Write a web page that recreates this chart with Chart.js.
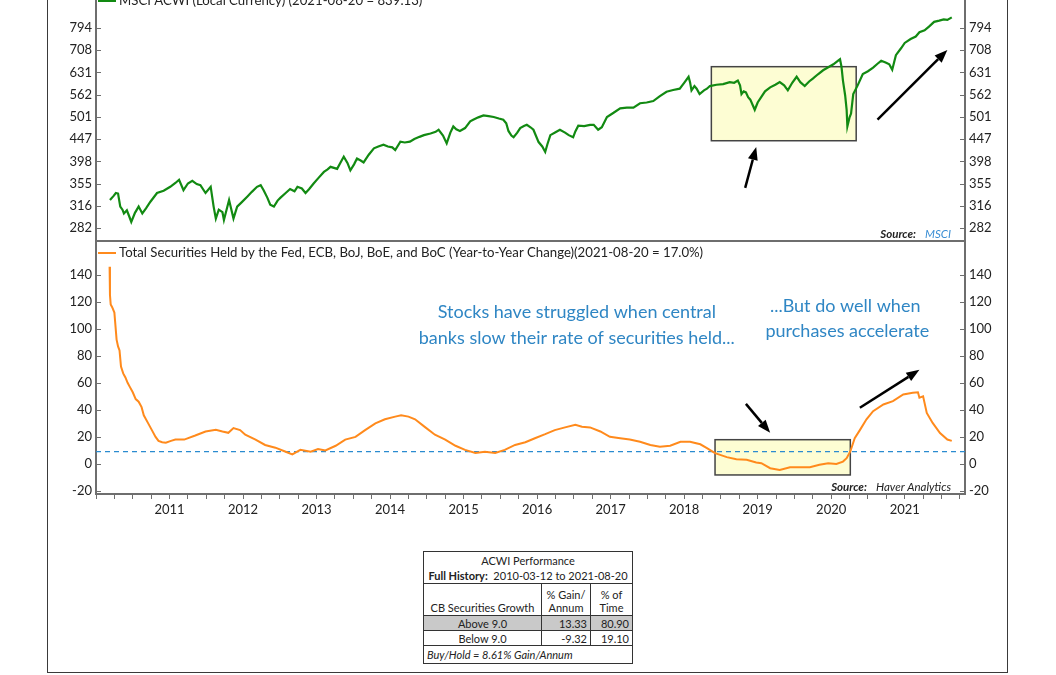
<!DOCTYPE html>
<html>
<head>
<meta charset="utf-8">
<title>ACWI vs Central Bank Securities</title>
<script src="https://cdn.jsdelivr.net/npm/chart.js@4.4.0/dist/chart.umd.min.js"></script>
<style>
  html, body { margin: 0; padding: 0; background: #fff; overflow: hidden; }
  body { width: 1056px; height: 675px; position: relative; font-family: Lato, "Open Sans", sans-serif; }
  .frame { position: absolute; left: 47px; top: -10px; width: 959px; height: 682px;
           border: 1.5px solid #3a3a3a; border-top: none; }
  #topChart { position: absolute; left: 0; top: -20px; }
  #botChart { position: absolute; left: 0; top: 236px; }
  #perf { position: absolute; left: 423px; top: 551px; }
  #perf table { border-collapse: collapse; table-layout: fixed; font-size: 11px; color: #222; }
  #perf td { border: 1px solid #333; padding: 0 3px; text-align: center; line-height: 13px; }
  #perf .title { height: 31px; line-height: 15px; }
  #perf .hdr td { height: 30px; vertical-align: bottom; padding-bottom: 1px; }
  #perf .row td { height: 14px; }
  #perf .grey td { background: #c9c9c9; }
  #perf .num { text-align: right; }
  #perf .foot { text-align: left; height: 17px; font-style: italic; }
</style>
</head>
<body>
<div class="frame"></div>
<canvas id="topChart" width="1056" height="264"></canvas>
<canvas id="botChart" width="1056" height="290"></canvas>
<div id="perf"></div>

<script>
// ---- data ----
const acwiDates = [2010.19,2010.24,2010.27,2010.30,2010.33,2010.36,2010.38,2010.42,2010.45,2010.48,2010.53,2010.58,2010.63,2010.68,2010.74,2010.83,2010.92,
  2011.01,2011.08,2011.13,2011.19,2011.25,2011.31,2011.37,2011.42,2011.49,2011.56,2011.60,2011.63,2011.67,2011.72,2011.74,2011.81,2011.87,2011.92,2011.98,
  2012.06,2012.12,2012.19,2012.24,2012.28,2012.33,2012.37,2012.42,2012.47,2012.51,2012.58,2012.64,2012.70,2012.74,2012.80,2012.85,2012.90,2012.96,
  2013.03,2013.10,2013.15,2013.19,2013.28,2013.33,2013.37,2013.42,2013.46,2013.51,2013.55,2013.60,2013.64,2013.71,2013.78,2013.84,2013.91,2013.97,
  2014.03,2014.07,2014.14,2014.20,2014.27,2014.33,2014.40,2014.46,2014.55,2014.62,2014.66,2014.72,2014.77,2014.82,2014.86,2014.90,2014.95,
  2015.02,2015.09,2015.13,2015.20,2015.27,2015.34,2015.41,2015.48,2015.54,2015.58,2015.61,2015.65,2015.68,2015.73,2015.77,2015.82,2015.86,2015.91,2015.95,
  2016.02,2016.07,2016.11,2016.14,2016.18,2016.25,2016.31,2016.38,2016.43,2016.49,2016.52,2016.56,2016.64,2016.72,2016.77,2016.83,2016.88,2016.95,
  2017.04,2017.13,2017.22,2017.31,2017.40,2017.49,2017.58,2017.67,2017.76,2017.85,2017.94,
  2018.00,2018.06,2018.08,2018.10,2018.14,2018.17,2018.21,2018.27,2018.31,2018.35,2018.44,2018.53,2018.62,2018.68,2018.73,2018.76,2018.78,2018.81,2018.84,2018.87,2018.90,2018.96,
  2019.00,2019.05,2019.10,2019.17,2019.24,2019.30,2019.36,2019.41,2019.47,2019.53,2019.58,2019.64,2019.70,2019.75,2019.82,2019.89,2019.96,
  2020.03,2020.09,2020.12,2020.14,2020.16,2020.19,2020.21,2020.22,2020.25,2020.27,2020.30,2020.36,2020.43,2020.50,2020.57,2020.63,2020.68,2020.74,2020.79,2020.83,2020.88,2020.95,
  2021.00,2021.08,2021.15,2021.20,2021.27,2021.33,2021.40,2021.47,2021.53,2021.58,2021.64];
const acwiValues = [326,333,338,337,315,310,304,309,300,291,305,315,304,312,323,338,342,
  349,356,362,343,355,360,354,352,338,349,315,296,310,306,294,326,296,315,322,
  332,340,349,352,343,330,318,315,325,330,338,345,341,349,346,338,345,355,
  366,377,382,387,383,397,408,395,380,392,404,400,396,412,426,430,434,430,
  428,422,441,439,441,447,452,456,460,464,469,455,437,462,477,470,466,
  473,490,494,500,505,503,501,497,494,485,466,455,451,462,473,478,481,475,469,
  440,430,418,435,456,463,469,462,456,451,465,479,478,481,481,469,475,501,
  512,524,526,526,538,540,544,558,571,576,580,
  598,617,600,575,588,580,564,575,580,588,592,594,600,598,605,590,564,572,569,555,548,520,
  540,556,572,584,592,600,590,575,598,617,600,588,602,611,625,638,648,
  658,670,676,650,605,560,520,477,500,510,564,590,626,635,647,660,670,664,658,640,690,715,
  735,750,760,777,785,800,820,825,830,828,839.13];

const cbDates = [2010.185,2010.19,2010.20,2010.22,2010.25,2010.28,2010.30,2010.32,2010.34,2010.37,2010.40,2010.43,2010.46,2010.50,2010.54,2010.58,2010.62,2010.65,2010.71,2010.76,2010.81,2010.85,2010.90,2010.95,
  2011.02,2011.08,2011.20,2011.35,2011.49,2011.63,2011.72,2011.80,2011.87,2011.96,
  2012.03,2012.17,2012.30,2012.44,2012.58,2012.67,2012.78,2012.92,
  2013.02,2013.12,2013.26,2013.39,2013.53,2013.66,2013.80,2013.93,
  2014.07,2014.15,2014.25,2014.34,2014.48,2014.61,2014.75,2014.89,
  2015.02,2015.16,2015.29,2015.43,2015.56,2015.70,2015.84,2015.97,
  2016.11,2016.24,2016.38,2016.52,2016.61,2016.72,2016.86,2016.99,
  2017.13,2017.26,2017.40,2017.54,2017.67,2017.81,2017.95,
  2018.08,2018.22,2018.31,2018.42,2018.58,2018.71,2018.85,2018.98,
  2019.05,2019.17,2019.30,2019.44,2019.57,2019.71,2019.84,2019.96,
  2020.07,2020.16,2020.21,2020.26,2020.32,2020.39,2020.48,2020.57,2020.71,2020.84,2020.98,
  2021.11,2021.18,2021.20,2021.25,2021.30,2021.38,2021.48,2021.58,2021.64];
const cbValues = [146,125,118,116,112,92,87,84,72,67,64,60,57,53,48,46,42,36,30,25,20,17,16,15.6,
  17,18,18,21,24,25.3,24,23,26.5,25,
  21.6,18,14,12,9,7,10.4,9,
  11,10,13.4,18,20,25,30,33,
  35,36,35,33,27,21.6,18,13.4,
  10.4,8,9,8,10.4,14,16,19,
  22,25,27,29,27.5,27,24,20,
  19,18,16.4,14,12.7,13.4,16.4,
  16.4,14.5,11.7,8,5,3.5,3,1,
  0.5,-3.2,-4.5,-2.5,-2.5,-2.5,-0.7,0.5,
  0,1.7,4.2,9.2,19,25,33,39,44,46.4,51.4,
  52.6,53,49,50,37.7,30.3,22.8,18,17];

const threshold = 9;
const topTicks = [282, 316, 355, 398, 447, 501, 562, 631, 708, 794];
const bottomTicks = [-20, 0, 20, 40, 60, 80, 100, 120, 140];
const tableHead = ['CB Securities Growth', '% Gain/<br>Annum', '% of<br>Time'];
const tableRows = [['Above 9.0', '13.33', '80.90'], ['Below 9.0', '-9.32', '19.10']];

// ---- shared look ----
const xMin = 2010, xMax = 2021.82;
const axisColor = '#6e6e6e';
const tickFont = { family: 'Lato', size: 13 };
const quarterTicks = [];
for (let yr = 2010; yr <= 2021; yr++) for (let q = 0; q < 4; q++) quarterTicks.push(yr + q / 4);

function yAxis(pos, type, lo, hi, ticks, width) {
  return {
    type: type, position: pos, min: lo, max: hi,
    afterBuildTicks: s => { s.ticks = ticks.map(v => ({ value: v })); },
    // fixed width, and no extra room for the end labels
    afterFit: s => { s.width = width; s.paddingTop = 0; s.paddingBottom = 0; },
    ticks: { font: tickFont, color: '#222', padding: 4, autoSkip: false, callback: v => String(v) },
    grid: { display: false, drawTicks: false },
    border: { display: true, color: axisColor, width: 2 }
  };
}

// y ticks point into the plot
const innerTicks = {
  id: 'innerTicks',
  afterDraw(chart) {
    const ctx = chart.ctx, area = chart.chartArea;
    ctx.save();
    ctx.strokeStyle = axisColor; ctx.lineWidth = 1;
    ['y', 'y2'].forEach(id => {
      const s = chart.scales[id];
      const left = s.position === 'left';
      const x0 = left ? area.left : area.right;
      s.ticks.forEach(t => {
        const py = Math.round(s.getPixelForValue(t.value)) + 0.5;
        ctx.beginPath(); ctx.moveTo(x0, py); ctx.lineTo(left ? x0 + 5 : x0 - 5, py); ctx.stroke();
      });
    });
    ctx.restore();
  }
};

function panelLegend(offset) {
  return {
    id: 'panelLegend',
    afterDraw(chart) {
      const ds = chart.data.datasets.find(d => d.label);
      const { left, top } = chart.chartArea;
      const ctx = chart.ctx, y = top + offset;
      ctx.save();
      ctx.strokeStyle = ds.borderColor; ctx.lineWidth = 2;
      ctx.beginPath(); ctx.moveTo(left + 2, y); ctx.lineTo(left + 20, y); ctx.stroke();
      ctx.fillStyle = '#222'; ctx.font = '13.2px Lato'; ctx.textBaseline = 'middle';
      ctx.fillText(ds.label, left + 23, y);
      ctx.restore();
    }
  };
}

function arrow(ctx, x0, y0, x1, y1) {
  const a = Math.atan2(y1 - y0, x1 - x0), len = 13, w = 5;
  const bx = x1 - len * Math.cos(a), by = y1 - len * Math.sin(a);
  ctx.beginPath(); ctx.moveTo(x0, y0); ctx.lineTo(bx, by); ctx.stroke();
  ctx.beginPath();
  ctx.moveTo(x1, y1);
  ctx.lineTo(bx + w * Math.sin(a), by - w * Math.cos(a));
  ctx.lineTo(bx - w * Math.sin(a), by + w * Math.cos(a));
  ctx.closePath(); ctx.fill();
}

// boxes, arrows, texts and source line, all placed in data units
function notes(cfg) {
  return {
    id: 'notes',
    beforeDatasetsDraw(chart) {
      const { ctx, scales: { x, y } } = chart;
      ctx.save();
      cfg.boxes.forEach(b => {
        const x0 = x.getPixelForValue(b[0]), x1 = x.getPixelForValue(b[1]);
        const y0 = y.getPixelForValue(b[2]), y1 = y.getPixelForValue(b[3]);
        ctx.fillStyle = '#fdfdd3'; ctx.fillRect(x0, y0, x1 - x0, y1 - y0);
        ctx.strokeStyle = '#444'; ctx.lineWidth = 1.5; ctx.strokeRect(x0, y0, x1 - x0, y1 - y0);
      });
      ctx.restore();
    },
    afterDraw(chart) {
      const { ctx, scales: { x, y }, chartArea } = chart;
      ctx.save();
      ctx.strokeStyle = '#000'; ctx.fillStyle = '#000'; ctx.lineWidth = 2.5;
      cfg.arrows.forEach(a => arrow(ctx, x.getPixelForValue(a[0]), y.getPixelForValue(a[1]),
                                         x.getPixelForValue(a[2]), y.getPixelForValue(a[3])));
      ctx.fillStyle = '#2f86c4'; ctx.font = '18px Lato';
      ctx.textAlign = 'center'; ctx.textBaseline = 'middle';
      cfg.texts.forEach(t => ctx.fillText(t[2], x.getPixelForValue(t[0]), y.getPixelForValue(t[1])));
      // source line, right aligned
      const sy = chartArea.bottom - 7;
      let sx = chartArea.right - 14;
      ctx.textAlign = 'right';
      ctx.font = 'italic 11.5px Lato'; ctx.fillStyle = cfg.sourceColor;
      ctx.fillText(cfg.source, sx, sy);
      sx -= ctx.measureText(cfg.source).width + 9;
      ctx.font = 'italic bold 11.5px Lato'; ctx.fillStyle = '#222';
      ctx.fillText('Source:', sx, sy);
      ctx.restore();
    }
  };
}

// ---- top panel: MSCI ACWI, log scale ----
new Chart(document.getElementById('topChart'), {
  type: 'line',
  data: {
    datasets: [{
      label: 'MSCI ACWI (Local Currency) (2021-08-20 = 839.13)',
      data: acwiDates.map((d, i) => ({ x: d, y: acwiValues[i] })),
      borderColor: '#128a12', borderWidth: 2.2, pointRadius: 0, tension: 0
    }]
  },
  options: {
    responsive: false, animation: false,
    layout: { padding: { top: 7, bottom: 3, left: 0, right: 0 } },
    plugins: { legend: { display: false }, tooltip: { enabled: false } },
    scales: {
      x: { type: 'linear', min: xMin, max: xMax, ticks: { display: false },
           grid: { display: false, drawTicks: false },
           border: { display: true, color: axisColor, width: 2 },
           afterFit: s => { s.height = 0; s.paddingLeft = 0; s.paddingRight = 0; } },
      y: yAxis('left', 'logarithmic', 263.6, 982, topTicks, 96),
      y2: yAxis('right', 'logarithmic', 263.6, 982, topTicks, 91)
    }
  },
  plugins: [innerTicks, panelLegend(14), notes({
    boxes: [[2018.37, 2020.34, 650, 443]],
    arrows: [[2018.83, 347, 2018.98, 429], [2020.63, 494, 2021.58, 709]],
    texts: [],
    source: 'MSCI', sourceColor: '#3a8ed4'
  })]
});

// ---- bottom panel: central bank securities, y/y % ----
new Chart(document.getElementById('botChart'), {
  type: 'line',
  data: {
    datasets: [{
      label: 'Total Securities Held by the Fed, ECB, BoJ, BoE, and BoC (Year-to-Year Change)(2021-08-20 = 17.0%)',
      data: cbDates.map((d, i) => ({ x: d, y: cbValues[i] })),
      borderColor: '#ff8a1c', borderWidth: 2, pointRadius: 0, tension: 0, order: 0
    }, {
      data: [{ x: xMin, y: threshold }, { x: xMax, y: threshold }],
      borderColor: '#2a8bd0', borderWidth: 1.3, borderDash: [5, 4], pointRadius: 0, order: 1
    }]
  },
  options: {
    responsive: false, animation: false,
    layout: { padding: { top: 5, bottom: 0, left: 0, right: 0 } },
    plugins: { legend: { display: false }, tooltip: { enabled: false } },
    scales: {
      x: { type: 'linear', min: xMin, max: xMax,
           afterBuildTicks: s => { s.ticks = quarterTicks.map(v => ({ value: v })); },
           afterFit: s => { s.height = 32; s.paddingLeft = 0; s.paddingRight = 0; },
           ticks: { font: tickFont, color: '#222', padding: 3, autoSkip: false, maxRotation: 0,
                    callback: v => (Number.isInteger(v) && v > 2010) ? String(v) : '' },
           grid: { drawOnChartArea: false, drawTicks: true, tickLength: 5, color: axisColor, lineWidth: 1 },
           border: { display: true, color: axisColor, width: 2 } },
      y: yAxis('left', 'linear', -22.3, 165, bottomTicks, 96),
      y2: yAxis('right', 'linear', -22.3, 165, bottomTicks, 91)
    }
  },
  plugins: [innerTicks, panelLegend(12), notes({
    boxes: [[2018.42, 2020.26, 17.9, -8.2]],
    arrows: [[2018.84, 44.4, 2019.17, 23], [2020.39, 41.5, 2021.2, 69.6]],
    texts: [[2016.54, 112, 'Stocks have struggled when central'],
            [2016.54, 93.3, 'banks slow their rate of securities held...'],
            [2020.19, 117, '...But do well when'],
            [2020.22, 98.5, 'purchases accelerate']],
    source: 'Haver Analytics', sourceColor: '#222'
  })]
});

// ---- performance table ----
let html = '<table><colgroup><col style="width:118px"><col style="width:49px"><col style="width:42px"></colgroup>';
html += '<tr><td colspan="3" class="title">ACWI Performance<br><b>Full History:</b>&nbsp;&nbsp;2010-03-12 to 2021-08-20</td></tr>';
html += '<tr class="hdr">' + tableHead.map(h => '<td>' + h + '</td>').join('') + '</tr>';
tableRows.forEach((r, i) => {
  html += '<tr class="row' + (i === 0 ? ' grey' : '') + '"><td>' + r[0] + '</td><td class="num">' + r[1] +
          '</td><td class="num">' + r[2] + '</td></tr>';
});
html += '<tr><td colspan="3" class="foot">Buy/Hold = 8.61% Gain/Annum</td></tr></table>';
document.getElementById('perf').innerHTML = html;
</script>
</body>
</html>
